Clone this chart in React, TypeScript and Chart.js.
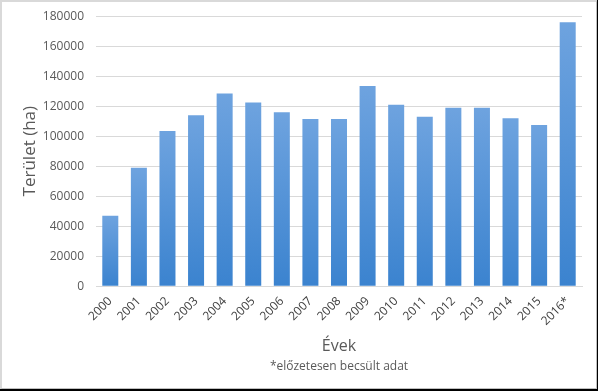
import React, { useEffect, useRef } from "react";
import { Chart, registerables } from "chart.js";

Chart.register(...registerables);

const categories = ["2000", "2001", "2002", "2003", "2004", "2005", "2006", "2007", "2008", "2009", "2010", "2011", "2012", "2013", "2014", "2015", "2016*"];
const areaValues = [47000, 79000, 103500, 114000, 128500, 122500, 116000, 111500, 111500, 133500, 121000, 113000, 119000, 119000, 112000, 107500, 176000];
const yTicks = [0, 20000, 40000, 60000, 80000, 100000, 120000, 140000, 160000, 180000];

const FONT = "'Open Sans', 'Liberation Sans', sans-serif";

export default function App() {
  const ref = useRef<HTMLCanvasElement | null>(null);

  useEffect(() => {
    document.body.style.margin = "0";
    const canvas = ref.current;
    if (!canvas) return;
    const chart = new Chart(canvas, {
      type: "bar",
      data: {
        labels: categories,
        datasets: [
          {
            data: areaValues,
            backgroundColor: (ctx: any) => {
              const c = ctx.chart;
              const area = c.chartArea;
              if (!area || ctx.parsed == null) return "#5593d8";
              const y = c.scales.y;
              const top = y.getPixelForValue(ctx.parsed.y);
              const base = y.getPixelForValue(0);
              if (!isFinite(top) || !isFinite(base) || base - top < 1) return "#5593d8";
              const g = c.ctx.createLinearGradient(0, top, 0, base);
              g.addColorStop(0, "#6ea3df");
              g.addColorStop(1, "#3b83cf");
              return g;
            },
            borderWidth: 0,
            categoryPercentage: 1,
            barPercentage: 0.56,
          },
        ],
      },
      options: {
        animation: false,
        responsive: false,
        maintainAspectRatio: false,
        layout: { padding: { left: 18, right: 14, top: 2, bottom: 16 } },
        plugins: {
          legend: { display: false },
          tooltip: { enabled: false },
          title: {
            display: true,
            position: "bottom",
            fullSize: false,
            text: "*előzetesen becsült adat",
            color: "#595959",
            font: { family: FONT, size: 12, weight: "normal" },
            padding: { top: 0, bottom: 0 },
          },
        },
        scales: {
          x: {
            grid: { display: false },
            border: { display: true, color: "#d9d9d9" },
            ticks: {
              color: "#404040",
              font: { family: FONT, size: 12 },
              minRotation: 45,
              maxRotation: 45,
              padding: 0,
            },
            title: {
              display: true,
              text: "Évek",
              color: "#595959",
              font: { family: FONT, size: 16 },
              padding: { top: 8, bottom: 4 },
            },
          },
          y: {
            min: 0,
            max: 180000,
            afterBuildTicks: (axis: any) => {
              axis.ticks = yTicks.map((v) => ({ value: v }));
            },
            afterFit: (axis: any) => {
              axis.width = 76;
            },
            grid: { color: "#d9d9d9", drawTicks: false },
            border: { display: false },
            ticks: {
              color: "#595959",
              font: { family: FONT, size: 12 },
              padding: 12,
              callback: (v: any) => String(v),
            },
            title: {
              display: true,
              text: "Terület (ha)",
              color: "#595959",
              font: { family: FONT, size: 17 },
              padding: { top: 0, bottom: 0 },
            },
          },
        },
      },
    });
    return () => chart.destroy();
  }, []);

  return (
    <div style={{ position: "relative", width: 598, height: 391, background: "#000", overflow: "hidden" }}>
      <div
        style={{
          position: "absolute",
          left: 0,
          top: 0,
          width: 597,
          height: 389,
          boxSizing: "border-box",
          background: "#fff",
          borderLeft: "2px solid #d9d9d9",
          borderTop: "2px solid #d9d9d9",
          borderRight: "1px solid #bfbfbf",
          borderBottom: "1px solid #bfbfbf",
        }}
      />
      <canvas ref={ref} width={594} height={393} style={{ position: "absolute", left: 2, top: -3 }} />
    </div>
  );
}
